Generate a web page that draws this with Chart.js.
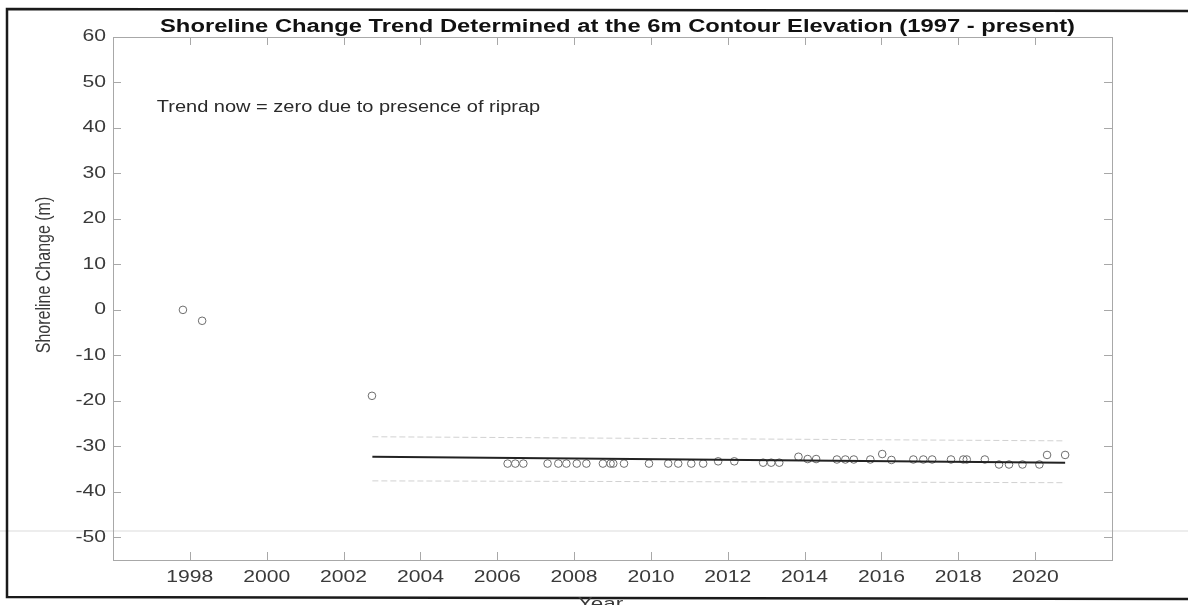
<!DOCTYPE html>
<html>
<head>
<meta charset="utf-8">
<script src="https://cdn.jsdelivr.net/npm/chart.js@4.4.1/dist/chart.umd.min.js"></script>
<style>
  html, body { margin:0; padding:0; background:#fff; overflow:hidden; }
  #wrap { width:1188px; height:605px; }
</style>
</head>
<body>
<div id="wrap"><canvas id="shoreChart" width="1188" height="605"></canvas></div>
<script>
// survey years and shoreline change (m)
const surveyYears = [
  1997.82, 1998.32, 2002.74,
  2006.27, 2006.47, 2006.68, 2007.31, 2007.59, 2007.80, 2008.07, 2008.32, 2008.75, 2008.95, 2009.02, 2009.30,
  2009.95, 2010.45, 2010.71, 2011.05, 2011.36, 2011.75, 2012.17, 2012.92, 2013.13, 2013.34,
  2013.84, 2014.08, 2014.30, 2014.84, 2015.06, 2015.28, 2015.71, 2016.02, 2016.26, 2016.83,
  2017.09, 2017.32, 2017.81, 2018.13, 2018.22, 2018.69, 2019.06, 2019.32, 2019.67, 2020.11,
  2020.31, 2020.78
];
const shoreChange = [
  0, -2.4, -18.9,
  -33.8, -33.8, -33.8, -33.8, -33.8, -33.8, -33.8, -33.8, -33.8, -33.8, -33.8, -33.8,
  -33.8, -33.8, -33.8, -33.8, -33.8, -33.3, -33.3, -33.6, -33.6, -33.6,
  -32.3, -32.8, -32.8, -32.9, -32.9, -32.9, -32.9, -31.7, -33.0, -32.9,
  -32.9, -32.9, -32.9, -32.9, -32.9, -32.9, -34.0, -34.0, -34.0, -34.0,
  -31.9, -31.9
];

// trend line and its band (start / end)
const trendYears  = [2002.75, 2020.78];
const trendValues = [-32.3, -33.6];
const upperValues = [-27.9, -28.8];
const lowerValues = [-37.6, -38.0];

const xTicks = [1998, 2000, 2002, 2004, 2006, 2008, 2010, 2012, 2014, 2016, 2018, 2020];
const yTicks = [-50, -40, -30, -20, -10, 0, 10, 20, 30, 40, 50, 60];

const chartTitle = 'Shoreline Change Trend Determined at the 6m Contour Elevation (1997 - present)';
const noteText = 'Trend now = zero due to presence of riprap';

const FONT = '"Liberation Sans", Arial, Helvetica, sans-serif';
Chart.defaults.font.family = FONT;
const STRETCH = 1.32; // the scanned figure is wider than tall

const pts = (xs, ys) => xs.map((x, i) => ({ x, y: ys[i] }));

// text squeezed out sideways like the scan
function wideText(c, txt, x, y, align, sx) {
  c.save();
  c.translate(x, y);
  c.scale(sx || STRETCH, 1);
  c.textAlign = align;
  c.fillText(txt, 0, 0);
  c.restore();
}

// box, inward ticks, labels, titles, note -- matlab look
const matlabDecor = {
  id: 'matlabDecor',
  beforeDraw(chart) {
    const c = chart.ctx;
    c.save();
    c.fillStyle = '#fff';
    c.fillRect(0, 0, chart.width, chart.height);
    // faint scan streak
    c.strokeStyle = 'rgba(0,0,0,0.07)';
    c.lineWidth = 2;
    c.beginPath(); c.moveTo(0, 531); c.lineTo(chart.width, 531); c.stroke();
    // outer frame of the page
    c.strokeStyle = '#1a1a1a';
    c.lineWidth = 2.5;
    c.beginPath();
    c.moveTo(1188, 11); c.lineTo(7, 9); c.lineTo(7, 597); c.lineTo(1188, 599);
    c.stroke();
    c.restore();
  },
  afterDraw(chart) {
    const c = chart.ctx;
    const a = chart.chartArea;
    const xs = chart.scales.x, ys = chart.scales.y;
    c.save();
    c.strokeStyle = '#a8a8a8';
    c.lineWidth = 1;
    c.strokeRect(a.left + 0.5, a.top + 0.5, a.right - a.left, a.bottom - a.top);
    const tl = 8;
    c.beginPath();
    xs.ticks.forEach(t => {
      const px = Math.round(xs.getPixelForValue(t.value)) + 0.5;
      c.moveTo(px, a.bottom); c.lineTo(px, a.bottom - tl);
      c.moveTo(px, a.top); c.lineTo(px, a.top + tl);
    });
    ys.ticks.forEach(t => {
      const py = Math.round(ys.getPixelForValue(t.value)) + 0.5;
      c.moveTo(a.left, py); c.lineTo(a.left + tl, py);
      c.moveTo(a.right, py); c.lineTo(a.right - tl, py);
    });
    c.stroke();

    c.textBaseline = 'middle';
    c.fillStyle = '#3a3a3a';
    c.font = '16px ' + FONT;
    xs.ticks.forEach(t => wideText(c, String(t.value), xs.getPixelForValue(t.value), a.bottom + 18, 'center'));
    ys.ticks.forEach(t => wideText(c, String(t.value), a.left - 7, ys.getPixelForValue(t.value), 'right'));

    c.fillStyle = '#111';
    c.font = 'bold 18px ' + FONT;
    wideText(c, chartTitle, (a.left + a.right) / 2 + 5, 27, 'center');

    c.fillStyle = '#2a2a2a';
    c.font = '16px ' + FONT;
    wideText(c, noteText, xs.getPixelForValue(1997.14), ys.getPixelForValue(44.5), 'left', 1.25);

    c.fillStyle = '#3a3a3a';
    c.font = '17px ' + FONT;
    wideText(c, 'Year', (a.left + a.right) / 2 - 12, 604, 'center');

    // rotated label, glyphs widened across the page like the rest
    c.translate(44, 275);
    c.scale(STRETCH, 1);
    c.rotate(-Math.PI / 2);
    c.font = '16px ' + FONT;
    c.textAlign = 'center';
    c.fillText('Shoreline Change (m)', 0, 0);
    c.restore();
  }
};

new Chart(document.getElementById('shoreChart').getContext('2d'), {
  type: 'scatter',
  data: {
    datasets: [
      {
        label: 'upper',
        data: pts(trendYears, upperValues),
        showLine: true,
        borderColor: '#d2d2d2',
        borderWidth: 1,
        borderDash: [6, 3],
        pointRadius: 0
      },
      {
        label: 'lower',
        data: pts(trendYears, lowerValues),
        showLine: true,
        borderColor: '#d2d2d2',
        borderWidth: 1,
        borderDash: [6, 3],
        pointRadius: 0
      },
      {
        label: 'trend',
        data: pts(trendYears, trendValues),
        showLine: true,
        borderColor: '#222',
        borderWidth: 2,
        pointRadius: 0
      },
      {
        label: 'surveys',
        data: pts(surveyYears, shoreChange),
        showLine: false,
        pointStyle: 'circle',
        pointRadius: 3.8,
        pointBorderWidth: 1,
        pointBorderColor: '#6e6e6e',
        pointBackgroundColor: 'rgba(0,0,0,0)'
      }
    ]
  },
  options: {
    responsive: false,
    animation: false,
    layout: { padding: { left: 0, top: 37, right: 76, bottom: 0 } },
    plugins: {
      legend: { display: false },
      tooltip: { enabled: false },
      title: { display: false }
    },
    scales: {
      x: {
        type: 'linear',
        min: 1996,
        max: 2022,
        grid: { display: false },
        border: { display: false },
        afterBuildTicks: s => { s.ticks = xTicks.map(v => ({ value: v })); },
        afterFit: s => { s.height = 45; },
        ticks: { display: false }
      },
      y: {
        min: -55,
        max: 60,
        grid: { display: false },
        border: { display: false },
        afterBuildTicks: s => { s.ticks = yTicks.map(v => ({ value: v })); },
        afterFit: s => { s.width = 113; },
        ticks: { display: false }
      }
    }
  },
  plugins: [matlabDecor]
});
</script>
</body>
</html>
